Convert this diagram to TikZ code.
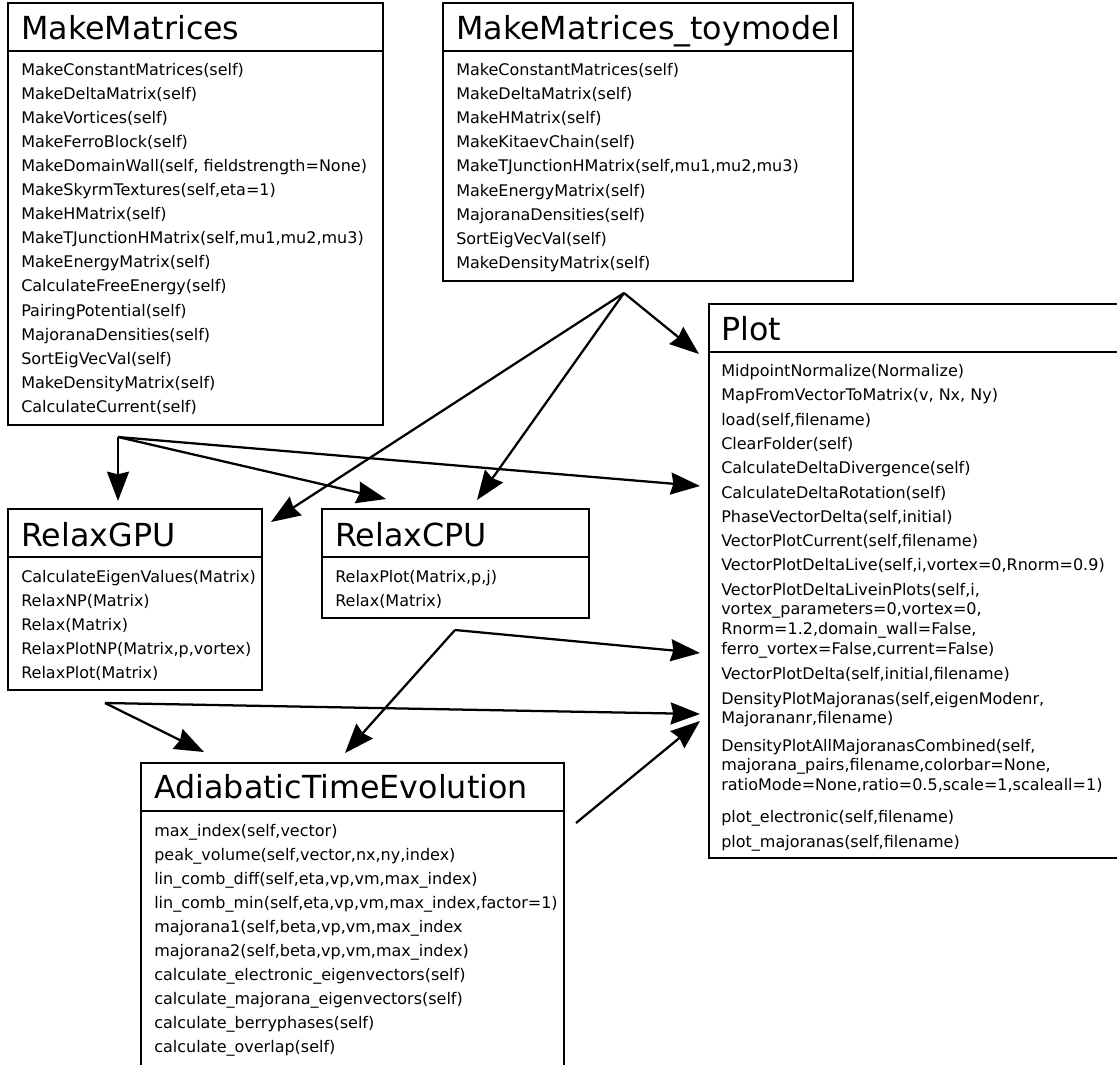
\documentclass[tikz,border=0pt]{standalone}
\usepackage{fontspec}
\setmainfont{DejaVu Sans}
\usetikzlibrary{arrows.meta}
\begin{document}
\begin{tikzpicture}[x=0.75pt,y=-0.75pt,
  classbox/.style={draw=black, line width=1.15pt},
  ctitle/.style={anchor=base west, inner sep=0pt, font=\fontsize{23.8}{28}\selectfont},
  cmeth/.style={anchor=base west, inner sep=0pt, font=\fontsize{12}{14}\selectfont},
  dep/.style={line width=1.7pt, -{Stealth[length=22pt,width=16.5pt,inset=2pt]}}]
\clip (0,0) rectangle (1117,1064);
\fill[white] (0,0) rectangle (1117,1064);

% ---------- class MakeMatrices ----------
\coordinate (mm-nw) at (8,3);
\coordinate (mm-se) at (383,425);
\draw[classbox] (mm-nw) rectangle (mm-se);
\draw[classbox] (8,51) -- (383,51);
\node[ctitle] (mm-title) at (21,39) {MakeMatrices};
\foreach \t [count=\i from 0] in {MakeConstantMatrices(self), MakeDeltaMatrix(self),
  MakeVortices(self), MakeFerroBlock(self), {MakeDomainWall(self, fieldstrength=None)},
  {MakeSkyrmTextures(self,eta=1)}, MakeHMatrix(self), {MakeTJunctionHMatrix(self,mu1,mu2,mu3)},
  MakeEnergyMatrix(self), CalculateFreeEnergy(self), PairingPotential(self),
  MajoranaDensities(self), SortEigVecVal(self), MakeDensityMatrix(self), CalculateCurrent(self)}
  \node[cmeth] (mm-m\i) at (21,{75+24.1*\i}) {\t};

% ---------- class MakeMatrices_toymodel ----------
\coordinate (tm-nw) at (443,3);
\coordinate (tm-se) at (853,281);
\draw[classbox] (tm-nw) rectangle (tm-se);
\draw[classbox] (443,51) -- (853,51);
\node[ctitle] (tm-title) at (456,39) {MakeMatrices\_toymodel};
\foreach \t [count=\i from 0] in {MakeConstantMatrices(self), MakeDeltaMatrix(self),
  MakeHMatrix(self), MakeKitaevChain(self), {MakeTJunctionHMatrix(self,mu1,mu2,mu3)},
  MakeEnergyMatrix(self), MajoranaDensities(self), SortEigVecVal(self), MakeDensityMatrix(self)}
  \node[cmeth] (tm-m\i) at (456,{75+24.2*\i}) {\t};

% ---------- class Plot ----------
\coordinate (pl-nw) at (709,304);
\coordinate (pl-se) at (1130,858);
\draw[classbox] (pl-nw) rectangle (pl-se);
\draw[classbox] (709,352) -- (1130,352);
\node[ctitle] (pl-title) at (721,340) {Plot};
\foreach \y/\t [count=\i] in {376.5/{MidpointNormalize(Normalize)},
  400.8/{MapFromVectorToMatrix(v, Nx, Ny)},
  425/{load(self,filename)},
  449.4/{ClearFolder(self)},
  473.7/{CalculateDeltaDivergence(self)},
  498/{CalculateDeltaRotation(self)},
  522.3/{PhaseVectorDelta(self,initial)},
  546.6/{VectorPlotCurrent(self,filename)},
  570.9/{VectorPlotDeltaLive(self,i,vortex=0,Rnorm=0.9)},
  595/{VectorPlotDeltaLiveinPlots(self,i,},
  614.5/{vortex\_parameters=0,vortex=0,},
  634/{Rnorm=1.2,domain\_wall=False,},
  654/{ferro\_vortex=False,current=False)},
  679/{VectorPlotDelta(self,initial,filename)},
  704/{DensityPlotMajoranas(self,eigenModenr,},
  723/{Majorananr,filename)},
  751/{DensityPlotAllMajoranasCombined(self,},
  770.5/{majorana\_pairs,filename,colorbar=None,},
  790/{ratioMode=None,ratio=0.5,scale=1,scaleall=1)},
  822/{plot\_electronic(self,filename)},
  847/{plot\_majoranas(self,filename)}}
  \node[cmeth] (pl-m\i) at (721,\y) {\t};

% ---------- class RelaxGPU ----------
\coordinate (gpu-nw) at (8,509);
\coordinate (gpu-se) at (262,690);
\draw[classbox] (gpu-nw) rectangle (gpu-se);
\draw[classbox] (8,557) -- (262,557);
\node[ctitle] (gpu-title) at (21,546) {RelaxGPU};
\foreach \t [count=\i from 0] in {CalculateEigenValues(Matrix), RelaxNP(Matrix),
  Relax(Matrix), {RelaxPlotNP(Matrix,p,vortex)}, RelaxPlot(Matrix)}
  \node[cmeth] (gpu-m\i) at (21,{582+24.2*\i}) {\t};

% ---------- class RelaxCPU ----------
\coordinate (cpu-nw) at (322,509);
\coordinate (cpu-se) at (589,618);
\draw[classbox] (cpu-nw) rectangle (cpu-se);
\draw[classbox] (322,557) -- (589,557);
\node[ctitle] (cpu-title) at (335,546) {RelaxCPU};
\foreach \t [count=\i from 0] in {{RelaxPlot(Matrix,p,j)}, Relax(Matrix)}
  \node[cmeth] (cpu-m\i) at (335,{582+24.2*\i}) {\t};

% ---------- class AdiabaticTimeEvolution ----------
\coordinate (ad-nw) at (141,763);
\coordinate (ad-se) at (564,1080);
\draw[classbox] (ad-nw) rectangle (ad-se);
\draw[classbox] (141,811) -- (564,811);
\node[ctitle] (ad-title) at (154,798) {AdiabaticTimeEvolution};
\foreach \t [count=\i from 0] in {{max\_index(self,vector)},
  {peak\_volume(self,vector,nx,ny,index)},
  {lin\_comb\_diff(self,eta,vp,vm,max\_index)},
  {lin\_comb\_min(self,eta,vp,vm,max\_index,factor=1)},
  {majorana1(self,beta,vp,vm,max\_index},
  {majorana2(self,beta,vp,vm,max\_index)},
  {calculate\_electronic\_eigenvectors(self)},
  {calculate\_majorana\_eigenvectors(self)},
  {calculate\_berryphases(self)},
  {calculate\_overlap(self)}}
  \node[cmeth] (ad-m\i) at (154,{836+24.1*\i}) {\t};

% ---------- dependency arrows ----------
% branching points below each class
\coordinate (tm-src)  at (624,293);
\coordinate (mm-src)  at (118,437);
\coordinate (cpu-src) at (455,630);
\coordinate (gpu-src) at (105,703);
\coordinate (ad-src)  at (576,823);
% arrow targets next to the receiving classes
\coordinate (pl-in1) at (699,354);
\coordinate (pl-in2) at (700,486);
\coordinate (pl-in3) at (700,653);
\coordinate (pl-in4) at (700,714);
\coordinate (pl-in5) at (700,721);
\coordinate (cpu-in1) at (477,500);
\coordinate (cpu-in2) at (386,499);
\coordinate (gpu-in1) at (271,522);
\coordinate (gpu-in2) at (118,501);
\coordinate (ad-in1) at (204,752);
\coordinate (ad-in2) at (345,753);

\draw[dep] (tm-src) -- (pl-in1);
\draw[dep] (tm-src) -- (cpu-in1);
\draw[dep] (tm-src) -- (gpu-in1);
\draw[dep] (mm-src) -- (gpu-in2);
\draw[dep] (mm-src) -- (cpu-in2);
\draw[dep] (mm-src) -- (pl-in2);
\draw[dep] (cpu-src) -- (pl-in3);
\draw[dep] (cpu-src) -- (ad-in2);
\draw[dep] (gpu-src) -- (pl-in4);
\draw[dep] (gpu-src) -- (ad-in1);
\draw[dep] (ad-src) -- (pl-in5);
\end{tikzpicture}
\end{document}
